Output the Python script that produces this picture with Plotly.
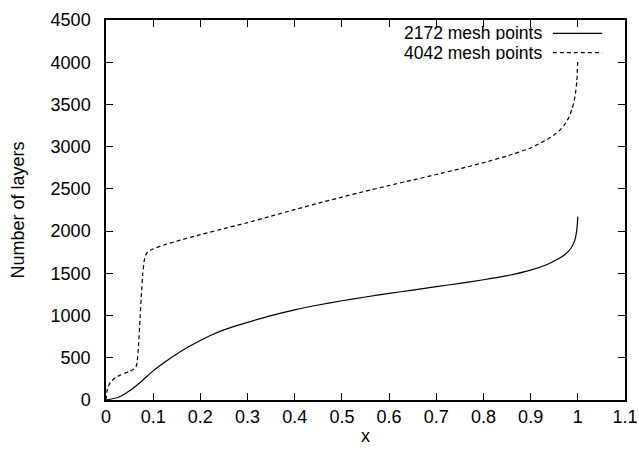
import plotly.graph_objects as go

series_names = ["2172 mesh points", "4042 mesh points"]

x_2172 = [0, 0.025, 0.05, 0.075, 0.1, 0.125, 0.15, 0.175, 0.2, 0.225, 0.25, 0.275, 0.3,
          0.35, 0.4, 0.45, 0.5, 0.55, 0.6, 0.65, 0.7, 0.75, 0.8, 0.85, 0.9, 0.935,
          0.955, 0.97, 0.98, 0.988, 0.994, 0.998, 1.0]
y_2172 = [0, 30, 110, 220, 345, 450, 545, 630, 705, 773, 830, 878, 920,
          1000, 1068, 1125, 1175, 1220, 1262, 1302, 1342, 1382, 1424, 1472, 1538, 1605,
          1660, 1712, 1760, 1820, 1900, 2020, 2172]

x_4042 = [0, 0.002, 0.005, 0.01, 0.02, 0.03, 0.04, 0.05, 0.058, 0.063, 0.066, 0.069,
          0.072, 0.075, 0.078, 0.081, 0.084, 0.088, 0.094, 0.1, 0.125, 0.15, 0.2, 0.25,
          0.3, 0.35, 0.4, 0.45, 0.5, 0.55, 0.6, 0.65, 0.7, 0.75, 0.8, 0.85, 0.9, 0.935,
          0.955, 0.97, 0.98, 0.988, 0.994, 0.998, 1.0]
y_4042 = [0, 100, 163, 215, 265, 295, 318, 340, 360, 380, 450, 650,
          950, 1250, 1500, 1650, 1715, 1750, 1772, 1790, 1840, 1882, 1958, 2030,
          2100, 2178, 2255, 2330, 2403, 2473, 2540, 2605, 2670, 2738, 2810, 2890, 2985, 3085,
          3160, 3245, 3335, 3450, 3590, 3780, 4042]

x_ticks = [0, 0.1, 0.2, 0.3, 0.4, 0.5, 0.6, 0.7, 0.8, 0.9, 1, 1.1]
x_tick_labels = ["0", "0.1", "0.2", "0.3", "0.4", "0.5", "0.6", "0.7", "0.8", "0.9", "1", "1.1"]
y_ticks = [0, 500, 1000, 1500, 2000, 2500, 3000, 3500, 4000, 4500]

FONT = "Liberation Sans, Arial, Helvetica, sans-serif"
FS = 18
LEG_FS = 17.5

fig = go.Figure()
fig.add_trace(go.Scatter(x=x_2172, y=y_2172, mode="lines", name=series_names[0],
                         line=dict(color="black", width=1.2, shape="spline", smoothing=0.5),
                         showlegend=False))
fig.add_trace(go.Scatter(x=x_4042, y=y_4042, mode="lines", name=series_names[1],
                         line=dict(color="black", width=1.2, dash="4px,3px",
                                   shape="spline", smoothing=0.4),
                         showlegend=False))

# gnuplot-style legend: text right-aligned, sample line to the right
legend_rows = [(series_names[0], None, 0.965), (series_names[1], "4px,3px", 0.914)]
for name, dash, yp in legend_rows:
    fig.add_annotation(xref="paper", yref="paper", x=0.842, y=yp, text=name,
                       showarrow=False, xanchor="right", yanchor="middle",
                       height=14, borderpad=0,
                       font=dict(family=FONT, size=LEG_FS, color="black"))
    fig.add_shape(type="line", xref="paper", yref="paper", x0=0.861, x1=0.956, y0=yp, y1=yp,
                  line=dict(color="black", width=1.2, dash=dash))

axis_common = dict(showgrid=False, zeroline=False, showline=True, linecolor="black",
                   linewidth=1.5, mirror="ticks", ticks="inside", ticklen=7,
                   tickcolor="black", tickwidth=1, automargin=False,
                   tickfont=dict(family=FONT, size=FS, color="black"))

fig.update_layout(
    width=639, height=455,
    margin=dict(l=106, r=14, t=20, b=55),
    paper_bgcolor="white", plot_bgcolor="white",
    font=dict(family=FONT, size=FS, color="black"),
    xaxis=dict(range=[0, 1.1], tickvals=x_ticks, ticktext=x_tick_labels,
               title=dict(text="x", font=dict(family=FONT, size=FS), standoff=3),
               **axis_common),
    yaxis=dict(range=[0, 4500], tickvals=y_ticks, ticklabelstandoff=10,
               title=dict(text="Number of layers", font=dict(family=FONT, size=FS), standoff=21),
               **axis_common),
)

fig.write_html("out.html", config={"displayModeBar": False},
               post_script="document.body.style.margin='0';")
